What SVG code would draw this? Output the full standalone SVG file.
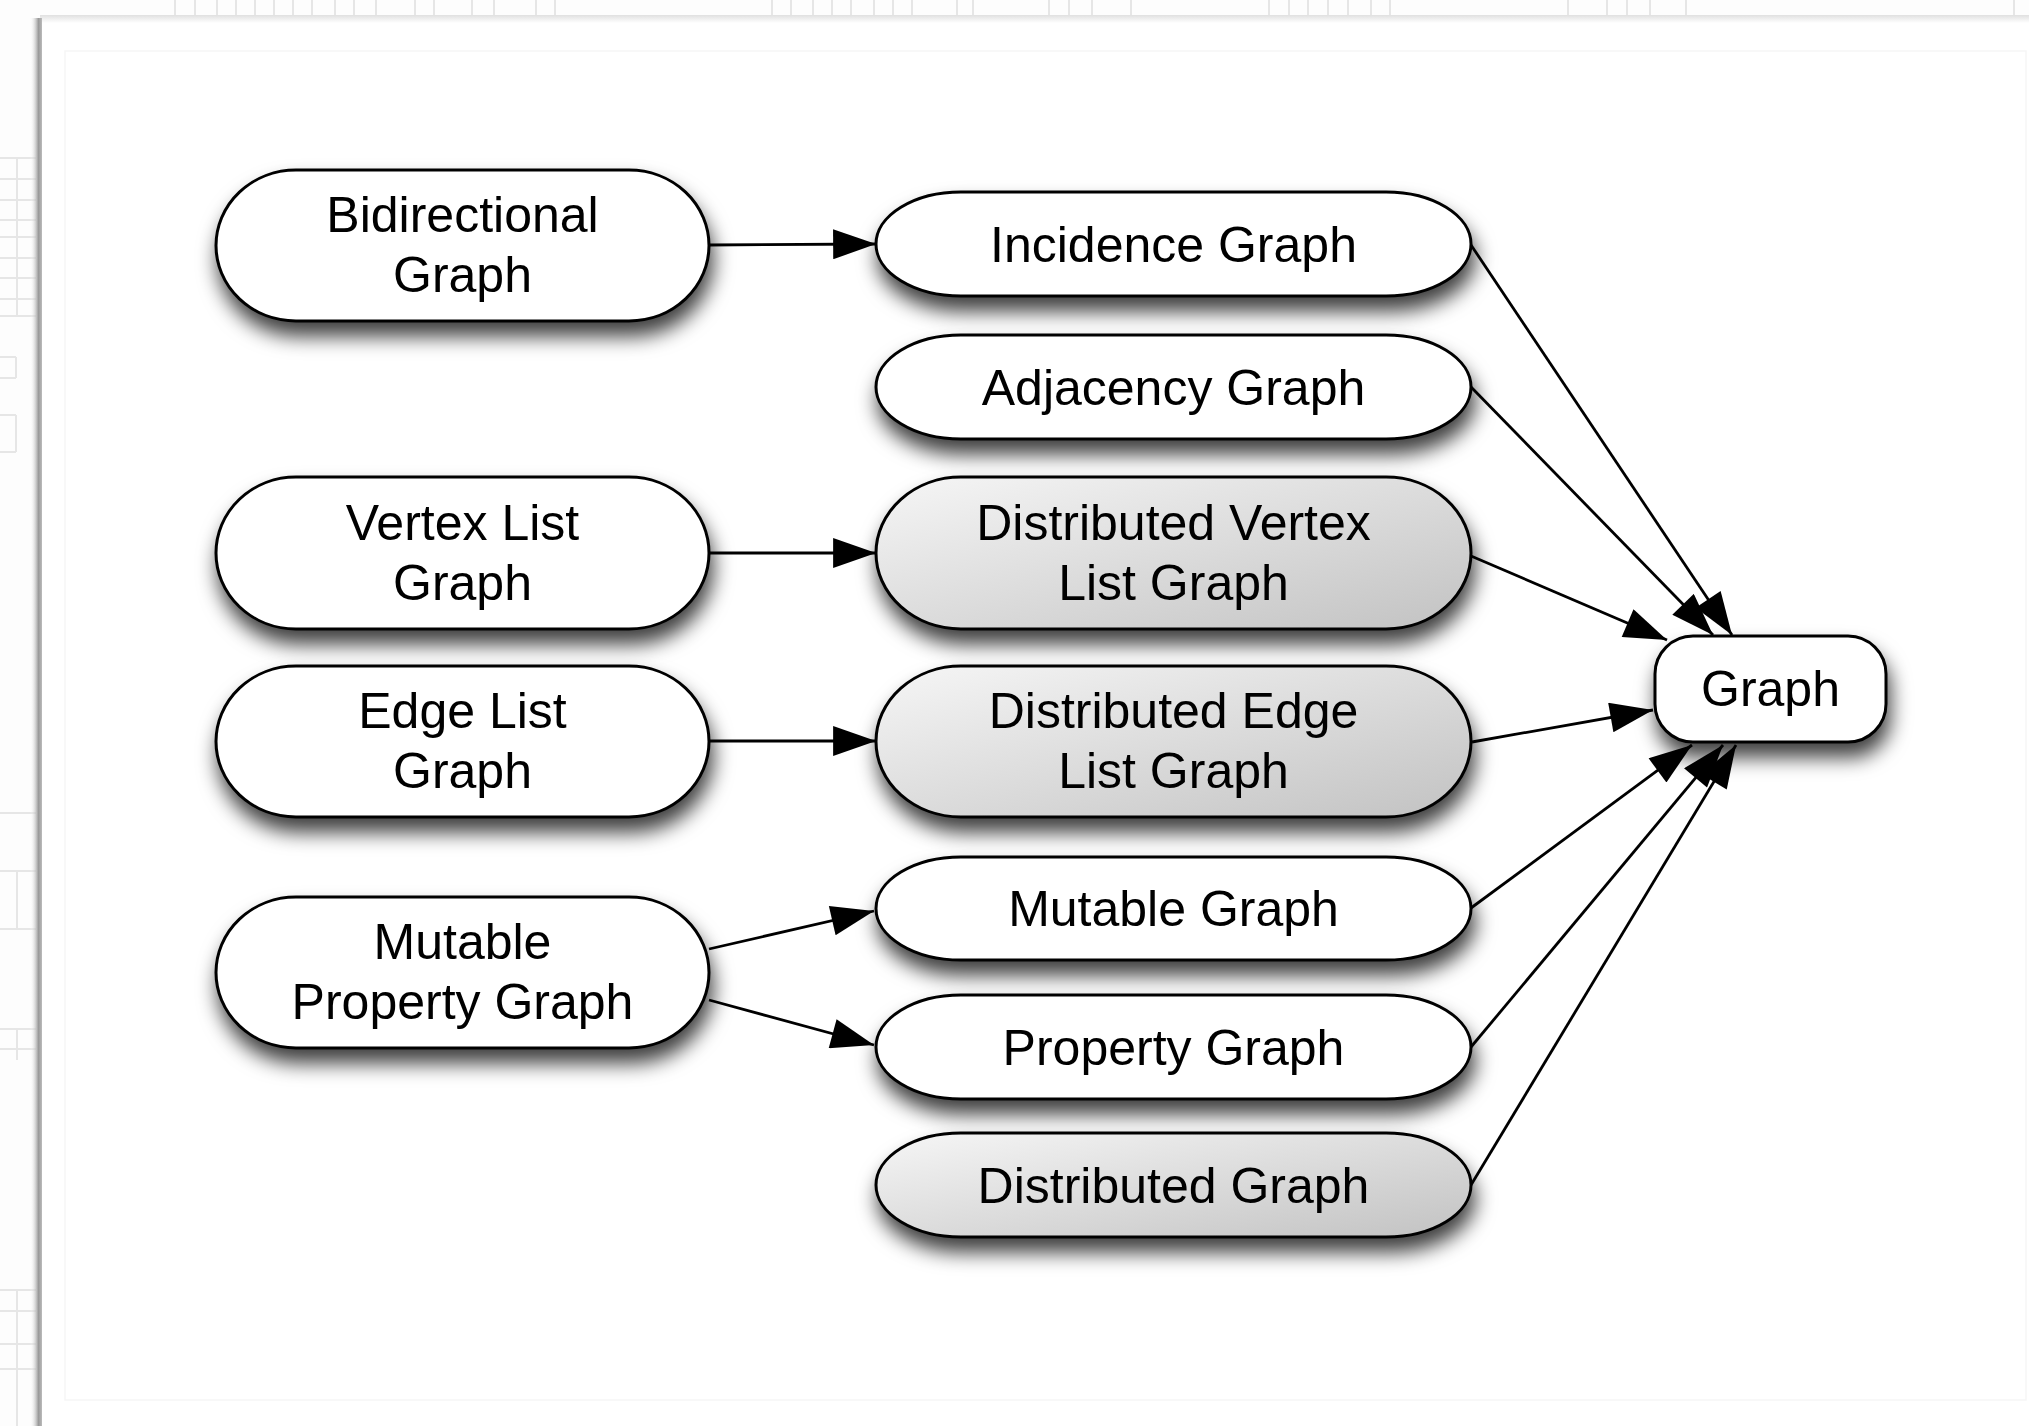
<svg xmlns="http://www.w3.org/2000/svg" width="2029" height="1426" viewBox="0 0 2029 1426">
  <style>
    .node { stroke: #000; stroke-width: 3; }
    .plain { fill: #fff; }
    .dist { fill: url(#distGrad); }
    .label { font-family: "Liberation Sans", Arial, Helvetica, sans-serif; font-size: 50px; fill: #000; text-anchor: middle; }
    .edge { stroke: #000; stroke-width: 2.8; fill: none; marker-end: url(#arrow); }
    .grid { stroke: #e6e6e6; stroke-width: 2; fill: none; }
  </style>
  <defs>
    <linearGradient id="distGrad" x1="0" y1="0" x2="1" y2="1">
      <stop offset="0" stop-color="#f6f6f6"/>
      <stop offset="1" stop-color="#c2c2c2"/>
    </linearGradient>
    <linearGradient id="leftShadow" x1="0" y1="0" x2="1" y2="0">
      <stop offset="0" stop-color="#ffffff" stop-opacity="0"/>
      <stop offset="0.7" stop-color="#999"/>
      <stop offset="1" stop-color="#bbb"/>
    </linearGradient>
    <linearGradient id="topShadow" x1="0" y1="0" x2="0" y2="1">
      <stop offset="0" stop-color="#e0e0e0"/>
      <stop offset="1" stop-color="#ffffff"/>
    </linearGradient>
    <filter id="shadow" x="-20%" y="-40%" width="140%" height="210%">
      <feDropShadow dx="3" dy="14" stdDeviation="10" flood-color="#000" flood-opacity="0.75"/>
    </filter>
    <marker id="arrow" markerUnits="userSpaceOnUse" markerWidth="44" markerHeight="30" viewBox="0 0 40 28" refX="40" refY="14" orient="auto">
      <path d="M0,0 L40,14 L0,28 Z" fill="#000"/>
    </marker>
  </defs>

  <!-- background -->
  <rect x="0" y="0" width="2029" height="1426" fill="#fdfdfd"/>
  <g class="grid">
    <path d="M175,0V16 M195,0V16 M217,0V16 M236,0V16 M255,0V16 M274,0V16 M293,0V16 M312,0V16 M335,0V16 M354,0V16 M376,0V16 M415,0V16 M434,0V16 M472,0V16 M494,0V16 M536,0V16 M555,0V16 M772,0V16 M791,0V16 M813,0V16 M832,0V16 M851,0V16 M874,0V16 M893,0V16 M912,0V16 M957,0V16 M973,0V16 M1049,0V16 M1069,0V16 M1092,0V16 M1131,0V16 M1269,0V16 M1289,0V16 M1308,0V16 M1328,0V16 M1348,0V16 M1371,0V16 M1390,0V16 M1568,0V16 M1607,0V16 M1627,0V16 M1650,0V16 M1686,0V16 M2014,0V16"/>
    <path d="M175,16H255 M293,16H335 M354,16H376 M415,16H455 M472,16H494 M772,16H912 M957,16H990 M1049,16H1069 M1131,16H1151 M1289,16H1328 M1348,16H1390 M1607,16H1686"/>
    <path d="M0,158H36 M0,179H36 M0,200H36 M0,220H36 M0,237H36 M0,258H36 M0,278H36 M0,299H36 M0,316H36 M0,357H16 M0,378H16 M0,415H16 M0,452H16 M0,813H36 M0,871H36 M0,929H36 M0,1029H36 M0,1049H36 M0,1290H36 M0,1311H36 M0,1344H36 M0,1369H36"/>
    <path d="M17,158V316 M16,357V378 M16,415V452 M17,871V929 M17,1029V1060 M17,1290V1426"/>
  </g>

  <!-- page panel -->
  <rect x="40" y="18" width="1989" height="1408" fill="#ffffff"/>
  <rect x="40" y="15" width="1989" height="8" fill="url(#topShadow)"/>
  <rect x="30" y="18" width="12" height="1408" fill="url(#leftShadow)"/>
  <rect x="65" y="51" width="1961" height="1349" fill="none" stroke="#f6f6f6" stroke-width="1.5"/>

  <!-- connectors -->
  <g id="connectors">
    <line class="edge" x1="709" y1="245" x2="876" y2="244"/>
    <line class="edge" x1="709" y1="553" x2="876" y2="553"/>
    <line class="edge" x1="709" y1="741" x2="876" y2="741"/>
    <line class="edge" x1="709" y1="949" x2="874" y2="911"/>
    <line class="edge" x1="709" y1="1000" x2="874" y2="1045"/>
    <line class="edge" x1="1471" y1="245" x2="1732" y2="635"/>
    <line class="edge" x1="1471" y1="387" x2="1713" y2="635"/>
    <line class="edge" x1="1471" y1="556" x2="1667" y2="640"/>
    <line class="edge" x1="1472" y1="742" x2="1653" y2="710"/>
    <line class="edge" x1="1471" y1="908" x2="1692" y2="745"/>
    <line class="edge" x1="1471" y1="1047" x2="1723" y2="745"/>
    <line class="edge" x1="1471" y1="1185" x2="1736" y2="745"/>
  </g>

  <!-- nodes -->
  <g id="node-bidirectional">
    <rect class="node plain" x="216" y="170" width="493" height="151" rx="80" ry="75.5" filter="url(#shadow)"/>
    <text class="label" x="462.5" y="232">Bidirectional</text>
    <text class="label" x="462.5" y="292">Graph</text>
  </g>
  <g id="node-incidence">
    <rect class="node plain" x="876" y="192" width="595" height="104" rx="85" ry="52" filter="url(#shadow)"/>
    <text class="label" x="1173.5" y="262">Incidence Graph</text>
  </g>
  <g id="node-adjacency">
    <rect class="node plain" x="876" y="335" width="595" height="104" rx="85" ry="52" filter="url(#shadow)"/>
    <text class="label" x="1173.5" y="405">Adjacency Graph</text>
  </g>
  <g id="node-vertexlist">
    <rect class="node plain" x="216" y="477" width="493" height="152" rx="80" ry="76" filter="url(#shadow)"/>
    <text class="label" x="462.5" y="540">Vertex List</text>
    <text class="label" x="462.5" y="600">Graph</text>
  </g>
  <g id="node-distvertex">
    <rect class="node dist" x="876" y="477" width="595" height="152" rx="85" ry="76" filter="url(#shadow)"/>
    <text class="label" x="1173.5" y="540">Distributed Vertex</text>
    <text class="label" x="1173.5" y="600">List Graph</text>
  </g>
  <g id="node-edgelist">
    <rect class="node plain" x="216" y="666" width="493" height="151" rx="80" ry="75.5" filter="url(#shadow)"/>
    <text class="label" x="462.5" y="728">Edge List</text>
    <text class="label" x="462.5" y="788">Graph</text>
  </g>
  <g id="node-distedge">
    <rect class="node dist" x="876" y="666" width="595" height="151" rx="85" ry="75.5" filter="url(#shadow)"/>
    <text class="label" x="1173.5" y="728">Distributed Edge</text>
    <text class="label" x="1173.5" y="788">List Graph</text>
  </g>
  <g id="node-mutableproperty">
    <rect class="node plain" x="216" y="897" width="493" height="151" rx="80" ry="75.5" filter="url(#shadow)"/>
    <text class="label" x="462.5" y="959">Mutable</text>
    <text class="label" x="462.5" y="1019">Property Graph</text>
  </g>
  <g id="node-mutable">
    <rect class="node plain" x="876" y="857" width="595" height="103" rx="85" ry="51.5" filter="url(#shadow)"/>
    <text class="label" x="1173.5" y="926">Mutable Graph</text>
  </g>
  <g id="node-property">
    <rect class="node plain" x="876" y="995" width="595" height="104" rx="85" ry="52" filter="url(#shadow)"/>
    <text class="label" x="1173.5" y="1065">Property Graph</text>
  </g>
  <g id="node-distributed">
    <rect class="node dist" x="876" y="1133" width="595" height="104" rx="85" ry="52" filter="url(#shadow)"/>
    <text class="label" x="1173.5" y="1203">Distributed Graph</text>
  </g>
  <g id="node-graph">
    <rect class="node plain" x="1655" y="636" width="231" height="106" rx="38" ry="38" filter="url(#shadow)"/>
    <text class="label" x="1770.5" y="706">Graph</text>
  </g>
</svg>
